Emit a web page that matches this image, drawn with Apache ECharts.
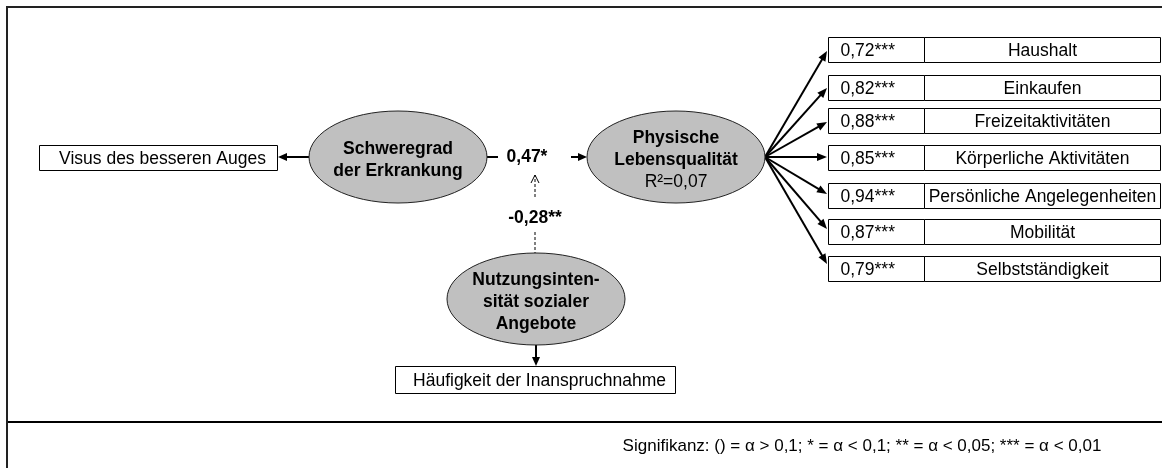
<!DOCTYPE html>
<html><head><meta charset="utf-8">
<script src="https://cdn.jsdelivr.net/npm/echarts@6/dist/echarts.min.js"></script>
<style>html,body{margin:0;padding:0;background:#fff}#c{width:1162px;height:468px}</style>
</head><body><div id="c"></div>
<script>
// ---------- data ----------
const constructs = ['Schweregrad\nder Erkrankung', 'Physische\nLebensqualität', 'Nutzungsinten-\nsität sozialer\nAngebote'];
const constructR2 = ['', 'R²=0,07', ''];
const qolItems = ['Haushalt', 'Einkaufen', 'Freizeitaktivitäten', 'Körperliche Aktivitäten', 'Persönliche Angelegenheiten', 'Mobilität', 'Selbstständigkeit'];
const qolLoadings = [0.72, 0.82, 0.88, 0.85, 0.94, 0.87, 0.79];
const qolSig = ['***', '***', '***', '***', '***', '***', '***'];
const singleItems = ['Visus des besseren Auges', 'Häufigkeit der Inanspruchnahme'];
const pathCoef = [0.47, -0.28];
const pathSig = ['*', '**'];
const footnote = 'Signifikanz: () = α > 0,1; * = α < 0,1; ** = α < 0,05; *** = α < 0,01';

// ---------- layout (diagram space of a hidden value grid) ----------
const FONT = "'Liberation Sans', Arial, sans-serif";
const FS = 17.5;
const LAY = {
  ell: [[398, 157], [676, 157], [536, 299]], rx: 89, ry: 46, lh: 22,
  single: [
    { box: [39, 145, 238, 25], from: [309, 157], to: [278, 157] },
    { box: [395, 366, 280, 27], from: [536, 345], to: [536, 366] }
  ],
  qol: { x: 828, w1: 96, w2: 236, h: 25, tops: [37, 75, 108, 145, 183, 219, 256], tips: [51, 88, 122, 157, 194, 229, 264], origin: [765, 157] },
  main: { seg: [487, 498], label: 527, arrow: [571, 587], y: 157 },
  mod: { x: 535, arrow: [197, 175], label: 218, dash: [232, 253] }
};

const fmt = v => v.toFixed(2).replace('.', ',');

function arrow(p0, p1, lw, hl, hw) {
  const dx = p1[0] - p0[0], dy = p1[1] - p0[1];
  const len = Math.hypot(dx, dy);
  const ux = dx / len, uy = dy / len;
  const bx = p1[0] - ux * hl, by = p1[1] - uy * hl;
  const nx = -uy, ny = ux;
  return [
    { type: 'line', shape: { x1: p0[0], y1: p0[1], x2: bx + ux, y2: by + uy }, style: { stroke: '#000', lineWidth: lw } },
    { type: 'polygon', shape: { points: [[p1[0], p1[1]], [bx + nx * hw, by + ny * hw], [bx - nx * hw, by - ny * hw]] }, style: { fill: '#000' } }
  ];
}
function txt(x, y, s, opt) {
  opt = opt || {};
  return { type: 'text', x: x, y: y, style: { text: s, fill: '#000', font: (opt.bold ? 'bold ' : '') + (opt.size || FS) + 'px ' + FONT, align: opt.align || 'center', verticalAlign: 'middle' } };
}

const chart = echarts.init(document.getElementById('c'), null, { renderer: 'canvas' });

const option = {
  animation: false,
  backgroundColor: '#fff',
  grid: { left: 0, right: 0, top: 0, bottom: 0 },
  xAxis: { type: 'value', min: 0, max: 1162, show: false },
  yAxis: { type: 'value', min: 0, max: 468, inverse: true, show: false },
  graphic: [
    { type: 'polyline', shape: { points: [[7, 470], [7, 7], [1170, 7]] }, style: { stroke: '#222', lineWidth: 2, fill: null } },
    { type: 'line', shape: { x1: 8, y1: 422, x2: 1162, y2: 422 }, style: { stroke: '#000', lineWidth: 2 } },
    { type: 'text', x: 862, y: 446, style: { text: footnote, fill: '#000', font: '17px ' + FONT, align: 'center', verticalAlign: 'middle' } }
  ],
  series: [
    // structural paths
    {
      type: 'custom', clip: false, z: 2,
      data: pathCoef.map((v, i) => [i, v]),
      renderItem: function (params, api) {
        const i = params.dataIndex;
        const label = fmt(api.value(1)) + pathSig[i];
        const c = [];
        if (i === 0) {
          const m = LAY.main;
          const a = api.coord([m.seg[0], m.y]), b = api.coord([m.seg[1], m.y]);
          c.push({ type: 'line', shape: { x1: a[0], y1: a[1], x2: b[0], y2: b[1] }, style: { stroke: '#000', lineWidth: 2 } });
          const l = api.coord([m.label, m.y]);
          c.push(txt(l[0], l[1], label, { bold: true }));
          c.push.apply(c, arrow(api.coord([m.arrow[0], m.y]), api.coord([m.arrow[1], m.y]), 2, 9, 4));
        } else {
          const m = LAY.mod;
          const p0 = api.coord([m.x, m.arrow[0]]), p1 = api.coord([m.x, m.arrow[1]]);
          c.push({ type: 'line', shape: { x1: p0[0], y1: p0[1], x2: p1[0], y2: p1[1] }, style: { stroke: '#000', lineWidth: 1, lineDash: [3, 2] } });
          c.push({ type: 'polyline', shape: { points: [[p1[0] - 4, p1[1] + 8], [p1[0], p1[1]], [p1[0] + 4, p1[1] + 8]] }, style: { stroke: '#000', lineWidth: 1, fill: null } });
          const l = api.coord([m.x, m.label]);
          c.push(txt(l[0], l[1], label, { bold: true }));
          const d0 = api.coord([m.x, m.dash[0]]), d1 = api.coord([m.x, m.dash[1]]);
          c.push({ type: 'line', shape: { x1: d0[0], y1: d0[1], x2: d1[0], y2: d1[1] }, style: { stroke: '#000', lineWidth: 1, lineDash: [3, 2] } });
        }
        return { type: 'group', children: c };
      }
    },
    // QoL indicators
    {
      type: 'custom', clip: false, z: 2,
      data: qolLoadings.map((v, i) => [i, v]),
      renderItem: function (params, api) {
        const i = params.dataIndex;
        const q = LAY.qol;
        const tl = api.coord([q.x, q.tops[i]]);
        const x = Math.round(tl[0]) + 0.5, y = Math.round(tl[1]) + 0.5;
        const c = [];
        c.push({ type: 'rect', shape: { x: x, y: y, width: q.w1, height: q.h }, style: { fill: '#fff', stroke: '#000', lineWidth: 1 } });
        c.push({ type: 'rect', shape: { x: x + q.w1, y: y, width: q.w2, height: q.h }, style: { fill: '#fff', stroke: '#000', lineWidth: 1 } });
        c.push(txt(x + 12, y + q.h / 2 + 1, fmt(api.value(1)) + qolSig[i], { align: 'left' }));
        c.push(txt(x + q.w1 + q.w2 / 2, y + q.h / 2 + 1, qolItems[i]));
        c.push.apply(c, arrow(api.coord(q.origin), api.coord([q.x - 1, q.tips[i]]), 2, 10, 4));
        return { type: 'group', children: c };
      }
    },
    // single indicators
    {
      type: 'custom', clip: false, z: 2,
      data: singleItems.map((s, i) => [i, 0]),
      renderItem: function (params, api) {
        const i = params.dataIndex;
        const s = LAY.single[i];
        const tl = api.coord([s.box[0], s.box[1]]);
        const x = Math.round(tl[0]) + 0.5, y = Math.round(tl[1]) + 0.5;
        const c = [];
        c.push({ type: 'rect', shape: { x: x, y: y, width: s.box[2], height: s.box[3] }, style: { fill: '#fff', stroke: '#000', lineWidth: 1 } });
        c.push(txt(x + s.box[2] / 2 + 4, y + s.box[3] / 2 + 1, singleItems[i]));
        c.push.apply(c, arrow(api.coord(s.from), api.coord(s.to), 2, 9, 4));
        return { type: 'group', children: c };
      }
    },
    // latent constructs
    {
      type: 'custom', clip: false, z: 3,
      data: constructs.map((s, i) => [i, 0]),
      renderItem: function (params, api) {
        const i = params.dataIndex;
        const ctr = api.coord(LAY.ell[i]);
        const c = [];
        c.push({ type: 'ellipse', shape: { cx: ctr[0], cy: ctr[1], rx: LAY.rx, ry: LAY.ry }, style: { fill: '#c0c0c0', stroke: '#222', lineWidth: 1 } });
        const lines = constructs[i].split('\n');
        const all = lines.map(t => ({ t: t, bold: true }));
        if (constructR2[i]) all.push({ t: constructR2[i], bold: false });
        const n = all.length;
        all.forEach((ln, k) => {
          c.push(txt(ctr[0], ctr[1] + 3 + (k - (n - 1) / 2) * LAY.lh, ln.t, { bold: ln.bold }));
        });
        return { type: 'group', children: c };
      }
    }
  ]
};
chart.setOption(option);
</script>
</body></html>
